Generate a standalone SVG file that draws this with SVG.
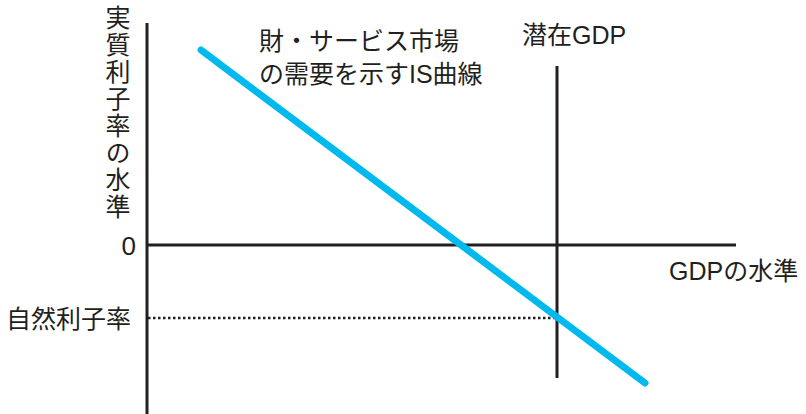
<svg xmlns="http://www.w3.org/2000/svg" width="806" height="414" viewBox="0 0 806 414">
<style>
text{font-family:"Liberation Sans","Noto Sans CJK JP",sans-serif;fill:#231f20;font-size:25px}
.ax{stroke:#231f20;stroke-width:3;fill:none}
</style>
<rect width="806" height="414" fill="#fff"/>
<g id="connectors">
<line class="ax" x1="147" y1="23" x2="147" y2="414"/>
<line class="ax" x1="147" y1="245" x2="736" y2="245"/>
<line class="ax" x1="557" y1="66" x2="557" y2="378"/>
<line x1="148" y1="318" x2="555" y2="318" stroke="#231f20" stroke-width="2.5" stroke-dasharray="2.5 2.5"/>
<line x1="201" y1="50" x2="645" y2="383" stroke="#00b9ef" stroke-width="7" stroke-linecap="round"/>
</g>
<g id="ylabel">
<text x="116" y="5" writing-mode="vertical-rl" style="letter-spacing:2px">実質利子率の水準</text>
</g>
<g id="zero"><text x="136" y="255" text-anchor="end" style="font-size:26px">0</text></g>
<g id="xlabel"><text x="669" y="280">GDPの水準</text></g>
<g id="natural"><text x="6" y="328">自然利子率</text></g>
<g id="potential"><text x="522" y="44">潜在GDP</text></g>
<g id="iscurve"><text x="259" y="50">財・サービス市場</text><text x="259" y="83">の需要を示すIS曲線</text></g>
</svg>
